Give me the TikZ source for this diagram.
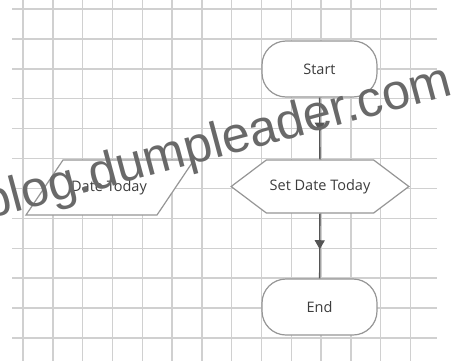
\documentclass[tikz,border=0pt]{standalone}
\usepackage{fontspec}
\setmainfont{Open Sans}
\newfontfamily\markFont{Liberation Sans}
\usetikzlibrary{positioning, shapes.symbols, decorations.markings, arrows.meta}
\definecolor{gridColor}{RGB}{208,208,208}
\definecolor{shapeColor}{RGB}{150,150,150}
\definecolor{flowColor}{RGB}{85,85,85}
\definecolor{textColor}{RGB}{60,60,60}
\definecolor{markColor}{RGB}{105,105,105}
\tikzstyle{sheet} = [x = 1pt, y = -1pt]
\tikzstyle{gridLine} = [color=gridColor, line width=1.4pt]
\tikzstyle{boxText} = [font=\fontsize{14.5}{16}\selectfont, text=textColor]
\tikzstyle{shapeBase} = [draw=shapeColor, fill=white, line width=1.2pt, boxText]
\tikzstyle{terminalStyle} = [shapeBase, rounded corners=24pt, minimum width=115pt, minimum height=56pt]
\tikzstyle{prepStyle} = [shapeBase, signal, signal to=west and east, signal pointer angle=74, minimum width=170pt, minimum height=53pt]
\tikzstyle{dataStyle} = [draw=shapeColor, fill=white, line width=1.2pt]
\tikzstyle{flowLine} = [color=flowColor, line width=1.3pt, postaction={decorate},
  decoration={markings, mark=at position 0.55 with {\arrow{Triangle[length=9pt, width=10pt]}}}]
\tikzstyle{markText} = [font=\markFont\fontsize{50.5}{51}\selectfont, text=markColor, rotate=15, anchor=base]
\newcommand{\horizontalGridLine}[1]{\draw [gridLine] (12, #1) -- (437, #1);}
\newcommand{\verticalGridLine}[1]{\draw [gridLine] (#1, 0) -- (#1, 361);}
\newcommand{\dataBox}[5]{\filldraw [dataStyle] (#1, #4) -- (#1 + #3, #2) -- (#5, #2) -- (#5 - #3, #4) -- cycle;}

\begin{document}
\begin{tikzpicture}[sheet]
  \useasboundingbox (0,0) rectangle (454,361);
  \fill[white] (0,0) rectangle (454,361);
  % grid
  \foreach \row in {0,...,11} {
    \pgfmathsetmacro{\var}{9 + 29.9 * \row}
    \horizontalGridLine{\var}
  }
  \foreach \column in {0,...,13} {
    \pgfmathsetmacro{\var}{23 + 29.8 * \column}
    \verticalGridLine{\var}
  }

  \node[terminalStyle] (start) at (319.5, 69) {Start};
  \node[prepStyle] (setDate) at (320, 186.5) {Set Date Today};
  \node[terminalStyle] (end) at (319.5, 307) {End};
  \dataBox{26}{160}{37}{215}{194}
  \node[boxText] (getDate) at (109, 187.5) {Date Today};

  \draw[flowLine] (start) -- (setDate);
  \draw[flowLine] (setDate) -- (end);

  \node[markText] (mark) at (221, 157) {blog.dumpleader.com};
\end{tikzpicture}
\end{document}
